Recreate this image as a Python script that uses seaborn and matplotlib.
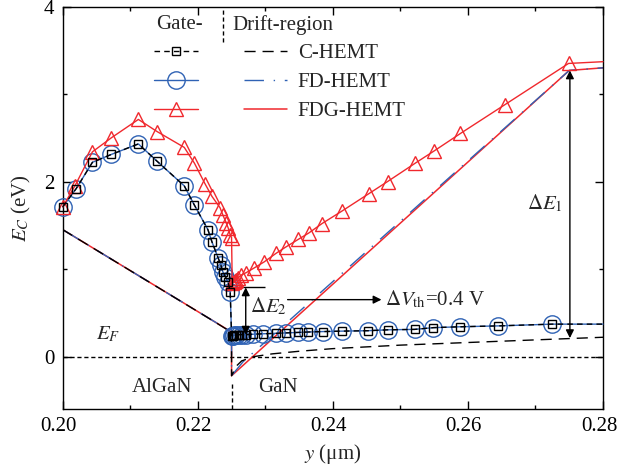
import numpy as np
import pandas as pd
import matplotlib
matplotlib.use("Agg")
import matplotlib.pyplot as plt
import matplotlib.transforms as mtransforms
import seaborn as sns
from matplotlib.lines import Line2D
from matplotlib.ticker import MultipleLocator, FormatStrFormatter

# ---------------- data ----------------
# Gate cross-section, C-HEMT (squares) and FD-HEMT (circles)
gate_x = [0.2000, 0.2020, 0.2044, 0.2072, 0.2112, 0.2140, 0.2180, 0.2195, 0.2215, 0.2221,
          0.2230, 0.2234, 0.2237, 0.2241, 0.2245, 0.2248,
          0.2250, 0.2252, 0.2254, 0.2257, 0.2261, 0.2266, 0.2272, 0.2282, 0.2297, 0.2316,
          0.2331, 0.2348, 0.2363, 0.2385, 0.2413, 0.2452, 0.2481, 0.2521, 0.2549, 0.2589,
          0.2645, 0.2725, 0.2800]
gate_c_ec = [1.71, 1.92, 2.22, 2.31, 2.43, 2.23, 1.95, 1.73, 1.45, 1.31,
             1.13, 1.05, 0.97, 0.91, 0.85, 0.74,
             0.24, 0.24, 0.245, 0.245, 0.25, 0.25, 0.25, 0.255, 0.26, 0.265,
             0.27, 0.275, 0.28, 0.285, 0.29, 0.295, 0.305, 0.31, 0.33, 0.34,
             0.35, 0.37, 0.37]
gate_fd_ec = list(gate_c_ec)

# Gate cross-section, FDG-HEMT (triangles)
gate_fdg_x = [0.2000, 0.2018, 0.2044, 0.2072, 0.2112, 0.2140, 0.2180, 0.2195, 0.2211, 0.2221,
              0.2233, 0.2237, 0.2242, 0.2245, 0.2248, 0.2250,
              0.2251, 0.2253, 0.2255, 0.2257, 0.2260, 0.2264, 0.2272, 0.2283, 0.2298, 0.2316,
              0.2330, 0.2349, 0.2364, 0.2384, 0.2413, 0.2453, 0.2481, 0.2522, 0.2550, 0.2589,
              0.2655, 0.2749, 0.2800]
gate_fdg_ec = [1.71, 1.95, 2.34, 2.50, 2.71, 2.57, 2.39, 2.21, 1.97, 1.83,
               1.70, 1.62, 1.53, 1.47, 1.39, 1.36,
               0.84, 0.85, 0.86, 0.88, 0.90, 0.93, 0.96, 1.01, 1.08, 1.18,
               1.25, 1.34, 1.41, 1.52, 1.66, 1.86, 2.00, 2.21, 2.35, 2.55,
               2.88, 3.35, 3.37]

# Drift-region cross-section
drift_c_x = [0.200, 0.222, 0.2245, 0.225, 0.225, 0.2257, 0.2265, 0.2284, 0.231, 0.235,
             0.240, 0.250, 0.260, 0.270, 0.280]
drift_c_ec = [1.45, 0.42, 0.30, 0.28, -0.22, -0.11, -0.05, 0.00, 0.03, 0.06,
              0.09, 0.13, 0.16, 0.19, 0.22]
drift_fd_x = [0.200, 0.225, 0.225, 0.2267, 0.275, 0.280]
drift_fd_ec = [1.45, 0.28, -0.22, -0.06, 3.27, 3.30]
drift_fdg_x = [0.200, 0.225, 0.225, 0.275, 0.280]
drift_fdg_ec = [1.45, 0.28, -0.22, 3.27, 3.30]

legend_labels = ["C-HEMT", "FD-HEMT", "FDG-HEMT"]
header_labels = ["Gate-", "Drift-region"]

# annotation anchors
interface_x = 0.225
divider_x = 0.2237
dE2_x, dE2_top, dE2_bot = 0.2271, 0.79, 0.25
dE2_bar = (0.2247, 0.2299)
dVth_y, dVth_x0, dVth_x1 = 0.65, 0.2333, 0.2472
dE1_x, dE1_top, dE1_bot = 0.2751, 3.27, 0.21

# ---------------- style ----------------
sns.set_style("ticks")
plt.rcParams["font.family"] = ["Liberation Serif", "DejaVu Serif"]
plt.rcParams["mathtext.fontset"] = "stix"
plt.rcParams["font.size"] = 15

RED = "#f0282d"
BLUE = "#2f62b4"

fig, ax = plt.subplots(figsize=(6.18, 4.70), dpi=100)
fig.subplots_adjust(left=0.1015, right=0.9757, bottom=0.1298, top=0.986)

# drift-region lines
sns.lineplot(x=drift_fdg_x, y=drift_fdg_ec, sort=False, estimator=None, ax=ax,
             color=RED, lw=1.1, zorder=2)
sns.lineplot(x=drift_fd_x, y=drift_fd_ec, sort=False, estimator=None, ax=ax,
             color=BLUE, lw=1.0, linestyle=(0, (14, 7, 1, 7)), zorder=2.1)
sns.lineplot(x=drift_c_x, y=drift_c_ec, sort=False, estimator=None, ax=ax,
             color="k", lw=1.0, linestyle=(0, (8, 5)), zorder=2.2)

# gate lines
n_g = len(gate_x)
sns.lineplot(x=gate_x, y=gate_fd_ec, sort=False, estimator=None, ax=ax,
             color=BLUE, lw=1.0, marker="o", markersize=12.5, markerfacecolor="none",
             markeredgecolor=BLUE, markeredgewidth=1.0, markevery=list(range(n_g - 1)),
             clip_on=False, zorder=3)
sns.lineplot(x=gate_x, y=gate_c_ec, sort=False, estimator=None, ax=ax,
             color="k", lw=1.0, linestyle=(0, (4, 3)), marker="s", markersize=6,
             markerfacecolor="none", markeredgecolor="k", markeredgewidth=1.0,
             markevery=list(range(n_g - 1)), clip_on=False, zorder=3.2)
n_t = len(gate_fdg_x)
sns.lineplot(x=gate_fdg_x, y=gate_fdg_ec, sort=False, estimator=None, ax=ax,
             color=RED, lw=1.0, marker="^", markersize=9.5, markerfacecolor="none",
             markeredgecolor=RED, markeredgewidth=1.0, markevery=list(range(n_t - 1)),
             clip_on=False, zorder=3.1)

# Fermi level and dividers
ax.axhline(0, color="k", lw=1.0, linestyle=(0, (3, 2)), zorder=1)
ax.vlines(interface_x, -0.6, -0.30, color="k", lw=1.0, linestyles=[(0, (3, 2))])
ax.vlines(divider_x, 3.6, 4.0, color="k", lw=1.0, linestyles=[(0, (3, 2))])

# annotations
arrow_kw = dict(arrowstyle="<|-|>", color="k", lw=1.0, mutation_scale=12,
                shrinkA=0, shrinkB=0)
ax.annotate("", xy=(dE2_x, dE2_bot), xytext=(dE2_x, dE2_top), arrowprops=arrow_kw)
ax.hlines(dE2_top, dE2_bar[0], dE2_bar[1], color="k", lw=1.0)
ax.text(0.2277, 0.57, r"$\Delta E_2$", ha="left", va="center")
ax.annotate("", xy=(dVth_x1, dVth_y), xytext=(dVth_x0, dVth_y),
            arrowprops=dict(arrowstyle="-|>", color="k", lw=1.0, mutation_scale=12,
                            shrinkA=0, shrinkB=0))
ax.text(0.2477, dVth_y, r"$\Delta V_{\rm th}$=0.4 V", ha="left", va="center")
ax.annotate("", xy=(dE1_x, dE1_bot), xytext=(dE1_x, dE1_top), arrowprops=arrow_kw)
ax.text(0.2688, 1.75, r"$\Delta E_1$", ha="left", va="center")

ax.text(0.2050, 0.25, r"$E_F$", ha="left", va="center")
ax.text(0.2147, -0.36, "AlGaN", ha="center", va="center")
ax.text(0.2318, -0.36, "GaN", ha="center", va="center")
ax.text(0.2173, 3.79, header_labels[0], ha="center", va="center")
ax.text(0.2251, 3.79, header_labels[1], ha="left", va="center")

# legend
handles = [
    Line2D([], [], color="k", lw=1.0, linestyle=(0, (4, 3)), marker="s", markersize=6,
           markerfacecolor="none", markeredgecolor="k"),
    Line2D([], [], color=BLUE, lw=1.0, marker="o", markersize=12.5,
           markerfacecolor="none", markeredgecolor=BLUE),
    Line2D([], [], color=RED, lw=1.0, marker="^", markersize=9.5,
           markerfacecolor="none", markeredgecolor=RED),
    Line2D([], [], color="k", lw=1.0, linestyle=(0, (8, 5))),
    Line2D([], [], color=BLUE, lw=1.0, linestyle=(0, (14, 7, 1, 7))),
    Line2D([], [], color=RED, lw=1.1),
]
labels = ["", "", ""] + legend_labels
ax.legend(handles, labels, ncol=2, loc="upper left", bbox_to_anchor=(0.169, 0.908),
          frameon=False, borderpad=0, borderaxespad=0, handlelength=2.1,
          handletextpad=0.5, columnspacing=1.7, labelspacing=0.45, fontsize=15)

# axes
ax.set_xlim(0.20, 0.28)
ax.set_ylim(-0.6, 4.0)
ax.xaxis.set_major_locator(MultipleLocator(0.02))
ax.xaxis.set_minor_locator(MultipleLocator(0.01))
ax.xaxis.set_major_formatter(FormatStrFormatter("%.2f"))
ax.yaxis.set_major_locator(MultipleLocator(2))
ax.yaxis.set_minor_locator(MultipleLocator(1))
ax.tick_params(which="both", direction="in", top=True, right=True, width=1.0,
               labelsize=15, colors="k")
ax.tick_params(which="major", length=6, pad=6)
ax.tick_params(which="minor", length=3)
for s in ax.spines.values():
    s.set_linewidth(1.0)
    s.set_color("k")
ax.set_xlabel(r"$y$ (μm)", fontsize=15, labelpad=4)
ax.set_ylabel(r"$E_C$ (eV)", fontsize=15, labelpad=8)

# the reference's x tick labels sit a few pixels left of their ticks
shift = mtransforms.ScaledTranslation(-4 / 100, 0, fig.dpi_scale_trans)
for tick in ax.xaxis.get_major_ticks():
    tick.label1.set_transform(tick.label1.get_transform() + shift)

fig.savefig("out.png", dpi=100)
